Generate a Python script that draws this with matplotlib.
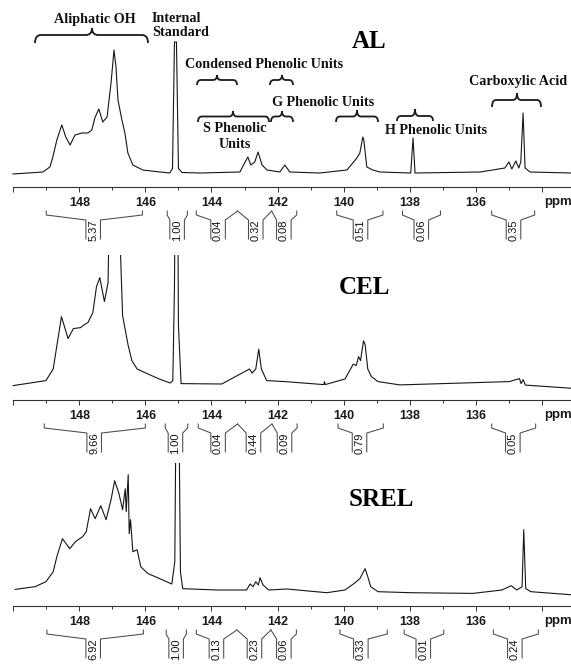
import matplotlib
matplotlib.use("Agg")
import matplotlib.pyplot as plt
from matplotlib.path import Path
from matplotlib.patches import PathPatch

# --- spectra: (ppm, height above baseline) --- #

al_ppm = [150.01, 149.10, 148.89, 148.80, 148.68, 148.53, 148.41, 148.28, 148.13, 147.92,
          147.74, 147.62, 147.53, 147.41, 147.29, 147.16, 147.04, 146.95, 146.89, 146.83,
          146.71, 146.62, 146.53, 146.38, 146.08, 145.56, 145.26, 145.18, 145.12, 145.06,
          145.00, 144.89, 144.35, 143.14, 142.90, 142.81, 142.69, 142.59, 142.47, 142.32,
          141.93, 141.78, 141.63, 140.72, 139.90, 139.60, 139.51, 139.42, 139.39, 139.30,
          139.12, 138.90, 137.97, 137.90, 137.84, 135.87, 135.12, 135.00, 134.91, 134.79,
          134.70, 134.64, 134.57, 134.51, 134.36, 133.12]
al_int = [-0.5, 1.5, 6.5, 16.5, 33.5, 48.5, 36.5, 28.5, 38.5, 40.5,
          40.5, 43.5, 55.5, 64.5, 51.5, 56.5, 90.5, 123.5, 106.5, 73.5,
          53.5, 40.5, 20.5, 8.5, 3.5, 1.5, 0.5, 5, 131.5, 131.5,
          5, 1, 0.5, 1.5, 16.5, 8.5, 11.5, 21.5, 8.5, 3.5,
          1.5, 8.5, 1.5, 0.5, 3.5, 15.5, 20.5, 36.5, 33.5, 6.5,
          3.5, 1.5, 0.5, 35.5, 0.5, 1.5, 5.5, 11.5, 4.5, 12.5,
          5.5, 11.5, 60.5, 5.5, 1.5, 0.5]

cel_ppm = [150.00, 149.01, 148.79, 148.68, 148.54, 148.34, 148.18, 147.96, 147.85, 147.74,
           147.59, 147.48, 147.38, 147.24, 147.13, 147.08, 146.82, 146.69, 146.52, 146.41,
           146.25, 145.92, 145.58, 145.25, 145.17, 145.12, 145.09, 145.03, 145.00, 144.92,
           143.69, 142.85, 142.77, 142.66, 142.57, 142.49, 142.33, 141.78, 140.60, 140.58,
           140.56, 139.96, 139.79, 139.71, 139.62, 139.55, 139.49, 139.40, 139.35, 139.27,
           139.16, 138.96, 138.30, 134.99, 134.68, 134.63, 134.57, 134.50, 133.13]
cel_int = [0, 5, 16.6, 39.7, 68.9, 47, 57, 58, 61, 63,
           73, 99, 108, 84, 103, 200, 200, 70, 40, 25,
           16.6, 11.6, 6.6, 2.6, 5, 100, 250, 250, 60, 2,
           1.6, 16.6, 12.6, 16.6, 36.4, 16.6, 5, 4, 1, 4,
           1, 6.6, 16.6, 21.5, 20, 29, 25, 44.7, 41, 16.6,
           9, 4, 0.7, 4, 7, 2, 6, 0.5, -2.6]

srel_ppm = [149.94, 149.34, 149.01, 148.79, 148.68, 148.51, 148.29, 148.12, 147.90, 147.79,
            147.66, 147.52, 147.35, 147.19, 147.04, 146.93, 146.80, 146.69, 146.61, 146.58,
            146.52, 146.49, 146.45, 146.38, 146.25, 146.14, 145.92, 145.70, 145.36, 145.20,
            145.11, 145.07, 144.99, 144.94, 144.87, 143.82, 142.94, 142.83, 142.74, 142.66,
            142.58, 142.53, 142.44, 142.27, 141.72, 140.51, 139.96, 139.68, 139.51, 139.40,
            139.35, 139.27, 139.18, 138.96, 137.97, 136.09, 135.21, 134.93, 134.76, 134.60,
            134.55, 134.49, 134.33, 133.13]
srel_int = [2.3, 5, 10, 20, 35, 53, 43, 50, 55, 60,
            83, 73, 86, 72, 92, 111, 98, 82, 103, 80,
            117, 58, 72, 40, 42, 25, 18, 15, 10, 7.7,
            30, 200, 200, 20, 3, 1.7, 1.7, 7.7, 5, 10,
            6.7, 14, 6.7, 1.7, 2.7, -1, 1.7, 8.3, 13, 20,
            23, 15, 5, 0, -1, -1.7, 1.7, 6, 1.7, 5,
            62, 3, 0, -3]

# --- integral regions (ppm) and values --- #

al_start = [149.00, 145.34, 144.46, 143.21, 142.18, 140.21, 138.22, 135.52]
al_end = [146.09, 144.73, 143.21, 142.18, 141.42, 138.81, 137.07, 134.22]
al_mid = [147.58, 145.04, 143.80, 142.66, 141.81, 139.49, 137.65, 134.86]
al_val = ['5.37', '1.00', '0.04', '0.32', '0.08', '0.51', '0.06', '0.35']

cel_start = [149.06, 145.40, 144.40, 143.21, 142.17, 140.17, 135.52]
cel_end = [146.00, 144.72, 143.21, 142.17, 141.41, 138.80, 134.19]
cel_mid = [147.55, 145.09, 143.80, 142.73, 141.79, 139.52, 134.88]
cel_val = ['9.66', '1.00', '0.04', '0.44', '0.09', '0.79', '0.05']

srel_start = [148.98, 145.37, 144.46, 143.23, 142.20, 140.11, 138.17, 135.47]
srel_end = [146.06, 144.76, 143.23, 142.20, 141.43, 138.68, 136.97, 134.11]
srel_mid = [147.58, 145.07, 143.85, 142.70, 141.81, 139.48, 137.59, 134.82]
srel_val = ['6.92', '1.00', '0.13', '0.23', '0.06', '0.33', '0.01', '0.24']

major_ticks = [150, 148, 146, 144, 142, 140, 138, 136, 134]
major_labels = ['', '148', '146', '144', '142', '140', '138', '136', '']
minor_ticks = [149, 147, 145, 143, 141, 139, 137, 135]

W, H = 571, 664
XL, XR = 150.40, 133.12
LINE = '#161616'
SERIF = ['Liberation Serif', 'DejaVu Serif']
SANS = ['Liberation Sans', 'DejaVu Sans']
NARROW = ['Liberation Sans Narrow', 'Liberation Sans', 'DejaVu Sans']

fig = plt.figure(figsize=(W / 100, H / 100), dpi=100)
fig.patch.set_facecolor('white')


def spectrum(ppm, inten, top, axis_y, base):
    ax = fig.add_axes([0, (H - axis_y) / H, 1, (axis_y - top) / H])
    ax.patch.set_alpha(0)
    ax.plot(ppm, inten, color=LINE, lw=0.8)
    ax.set_xlim(XL, XR)
    ax.set_ylim(-(axis_y - base), base - top)
    for s in ['left', 'right', 'top']:
        ax.spines[s].set_visible(False)
    ax.spines['bottom'].set_bounds(150, XR)
    ax.spines['bottom'].set_color('#333333')
    ax.spines['bottom'].set_linewidth(0.8)
    ax.set_yticks([])
    ax.set_xticks(major_ticks)
    ax.set_xticklabels(major_labels, family=SANS, fontweight='bold', fontsize=9,
                       color='#1a1a1a')
    ax.set_xticks(minor_ticks, minor=True)
    ax.tick_params(axis='x', which='major', direction='out', length=3.3, width=0.7,
                   color='#333333', pad=4)
    ax.tick_params(axis='x', which='minor', direction='out', length=2, width=0.7,
                   color='#333333')
    return ax


spectrum(al_ppm, al_int, 30, 187, 173.5)
spectrum(cel_ppm, cel_int, 255, 400, 385.6)
spectrum(srel_ppm, srel_int, 463, 606, 591.7)

# overlay in ppm / pixel coordinates for integrals and "ppm"
ig = fig.add_axes([0, 0, 1, 1])
ig.set_xlim(XL, XR)
ig.set_ylim(H, 0)
ig.axis('off')

HW = 0.22  # half width of the label box in ppm


def integrals(starts, ends, mids, vals, axis_y):
    top, tick, mid, bot = axis_y + 24, axis_y + 28, axis_y + 33, axis_y + 52
    for i in range(len(starts)):
        a, b, c = starts[i], ends[i], mids[i]
        ta = top if (i > 0 and abs(ends[i - 1] - a) < 0.02) else tick
        tb = top if (i + 1 < len(starts) and abs(starts[i + 1] - b) < 0.02) else tick
        ig.plot([a, a, c + HW, c + HW], [top, ta, mid, bot], color='#4a4a4a', lw=0.75)
        ig.plot([c - HW, c - HW, b, b], [bot, mid, tb, top], color='#4a4a4a', lw=0.75)
        ig.text(c, (mid + bot) / 2 + 1, vals[i], rotation=90, ha='center', va='center',
                family=NARROW, fontsize=8, color='#111111')
    ig.text(133.93, axis_y + 15, 'ppm', ha='left', va='center', family=SANS,
            fontweight='bold', fontsize=9.5, color='#1a1a1a')


integrals(al_start, al_end, al_mid, al_val, 187)
integrals(cel_start, cel_end, cel_mid, cel_val, 400)
integrals(srel_start, srel_end, srel_mid, srel_val, 606)

# overlay in pixel coordinates for the assignments
an = fig.add_axes([0, 0, 1, 1])
an.set_xlim(0, W)
an.set_ylim(H, 0)
an.axis('off')


def brace(x0, x1, xt, y_end, y_line, y_tip, r=4):
    verts = [(x0, y_end), (x0, y_line), (x0 + r, y_line),
             (xt - r, y_line), (xt, y_line), (xt, y_tip),
             (xt, y_line), (xt + r, y_line),
             (x1 - r, y_line), (x1, y_line), (x1, y_end)]
    codes = [Path.MOVETO, Path.CURVE3, Path.CURVE3,
             Path.LINETO, Path.CURVE3, Path.CURVE3,
             Path.CURVE3, Path.CURVE3,
             Path.LINETO, Path.CURVE3, Path.CURVE3]
    an.add_patch(PathPatch(Path(verts, codes), fill=False, lw=1.3, ec='#1a1a1a'))


brace(35, 148, 92, 43, 35, 28, r=6)
brace(197, 237, 217, 85, 80, 75)
brace(270, 293, 282, 85, 80, 75)
brace(198, 269, 233, 122, 116.5, 111)
brace(271, 293, 282, 122, 116.5, 111)
brace(336, 378, 357, 122, 116.5, 110)
brace(397, 433, 415, 121, 116, 109)
brace(492, 541, 517, 107, 100, 93)

lab = dict(family=SERIF, fontweight='bold', fontsize=10.2, color='#111111')
an.text(95, 19, 'Aliphatic OH', ha='center', va='center', **lab)
an.text(152, 18, 'Internal', ha='left', va='center', **lab)
an.text(152, 32, 'Standard', ha='left', va='center', **lab)
an.text(264, 65, 'Condensed Phenolic Units', ha='center', va='center', **lab)
an.text(235, 129, 'S Phenolic', ha='center', va='center', **lab)
an.text(235, 144, 'Units', ha='center', va='center', **lab)
an.text(323, 102, 'G Phenolic Units', ha='center', va='center', **lab)
an.text(436, 130, 'H Phenolic Units', ha='center', va='center', **lab)
an.text(518, 82, 'Carboxylic Acid', ha='center', va='center', **lab)

big = dict(family=SERIF, fontweight='bold', fontsize=18, color='black',
           ha='center', va='center')
an.text(369, 42, 'AL', **big)
an.text(364, 287, 'CEL', **big)
an.text(381, 499, 'SREL', **big)

fig.savefig('out.png', dpi=100, facecolor='white')
